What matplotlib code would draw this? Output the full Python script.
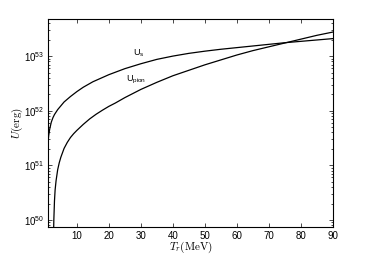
import numpy as np
import matplotlib
matplotlib.use("Agg")
import matplotlib.pyplot as plt
from matplotlib.font_manager import FontProperties
from matplotlib.ticker import LogLocator, FuncFormatter, MultipleLocator

plt.rcParams['font.family'] = ['Liberation Sans', 'DejaVu Sans']
plt.rcParams['mathtext.fontset'] = 'custom'
plt.rcParams['mathtext.rm'] = 'Liberation Sans'
plt.rcParams['mathtext.it'] = 'Liberation Sans:italic'
plt.rcParams['mathtext.bf'] = 'Liberation Sans:bold'

# values (log10 of U in erg)
t_s = [1.0, 1.2, 1.5, 2, 2.5, 3, 4, 5, 6, 7, 8, 10, 12, 15, 20, 25, 30,
       35, 40, 45, 50, 55, 60, 65, 70, 75, 80, 85, 90]
logu_s = [51.43, 51.55, 51.66, 51.79, 51.87, 51.93, 52.02, 52.09, 52.16,
          52.21, 52.26, 52.35, 52.43, 52.53, 52.66, 52.77, 52.86, 52.94,
          53.00, 53.05, 53.09, 53.125, 53.155, 53.185, 53.215, 53.245,
          53.27, 53.295, 53.32]

t_pion = [2.62, 2.7, 2.8, 3.0, 3.2, 3.5, 4.0, 4.5, 5, 6, 7, 8, 9, 10, 12,
          14, 16, 18, 20, 22, 25, 30, 35, 40, 45, 50, 55, 60, 65, 70, 75,
          80, 85, 90]
logu_pion = [49.0, 49.7, 50.0, 50.35, 50.55, 50.72, 50.92, 51.05, 51.15,
             51.31, 51.42, 51.51, 51.58, 51.64, 51.75, 51.85, 51.935,
             52.01, 52.08, 52.14, 52.24, 52.39, 52.52, 52.64, 52.74, 52.84,
             52.93, 53.02, 53.10, 53.17, 53.24, 53.31, 53.38, 53.44]

fig = plt.figure(figsize=(3.67, 2.56), dpi=100)
ax = fig.add_axes([0.131, 0.113, 0.776, 0.813])

ax.plot(t_s, 10 ** np.array(logu_s), color='black', lw=0.9)
ax.plot(t_pion, 10 ** np.array(logu_pion), color='black', lw=0.9)

ax.set_yscale('log')
ax.set_xlim(1, 90)
ax.set_ylim(10 ** 49.87, 10 ** 53.68)

ax.xaxis.set_major_locator(MultipleLocator(10))
ax.yaxis.set_major_locator(LogLocator(base=10, numticks=10))
ax.yaxis.set_minor_locator(LogLocator(base=10, subs=np.arange(2, 10), numticks=10))
ax.yaxis.set_major_formatter(FuncFormatter(lambda v, p: r'$\mathrm{10^{%d}}$' % round(np.log10(v))))
ax.yaxis.set_minor_formatter(FuncFormatter(lambda v, p: ''))

ax.tick_params(which='both', direction='in', top=True, right=True,
               labelsize=7, width=0.5, pad=3)
ax.tick_params(which='major', length=3)
ax.tick_params(which='minor', length=1.5)
for sp in ax.spines.values():
    sp.set_linewidth(0.8)

serif = FontProperties(family='DejaVu Serif', size=8)
serif.set_math_fontfamily('cm')
ax.set_xlabel(r'$T_r\mathrm{(MeV)}$', fontproperties=serif, labelpad=-1)
ax.set_ylabel(r'$U\mathrm{(erg)}$', fontproperties=serif, labelpad=-1)

ax.text(27.5, 10 ** 53.06, r'$\mathrm{U_s}$', fontsize=6.5, ha='left', va='center')
ax.text(25.3, 10 ** 52.56, r'$\mathrm{U_{pion}}$', fontsize=6.5, ha='left', va='center')

fig.savefig('out.png', dpi=100)
